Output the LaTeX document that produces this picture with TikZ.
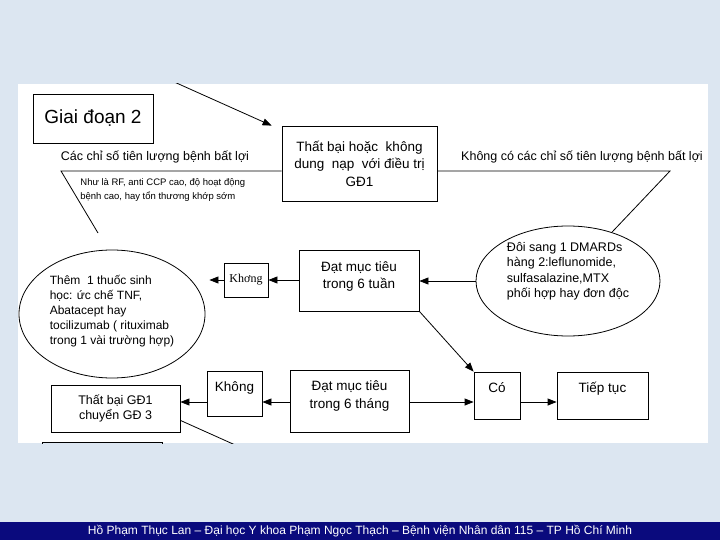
\documentclass[tikz,border=0pt]{standalone}
\usepackage{fontspec}
\setmainfont{Liberation Sans}
\newfontfamily\serifvn{Liberation Serif}
\usetikzlibrary{arrows.meta,calc,positioning,shapes.geometric}
\definecolor{slidebg}{RGB}{220,230,241}
\definecolor{barblue}{RGB}{10,10,125}
\tikzset{
  box/.style={draw,align=center,inner sep=2pt},
  oval/.style={draw,ellipse,align=left,inner sep=0pt},
  arr/.style={-{Triangle[length=9pt,width=7pt]}},
  big/.style={font=\fontsize{13.5}{17.5}\selectfont},
  mid/.style={font=\fontsize{12.5}{15.5}\selectfont},
}
\begin{document}
\begin{tikzpicture}[x=1pt,y=-1pt,line width=0.8pt]
\fill[slidebg] (0,0) rectangle (720,540);
\useasboundingbox (0,0) rectangle (720,540);
\fill[white] (18,84) rectangle (708,443);
\fill[barblue] (0,522) rectangle (720,540);
\node[text=white,font=\fontsize{12}{13}\selectfont] (foot) at (360,531) {Hồ Phạm Thục Lan – Đại học Y khoa Phạm Ngọc Thạch – Bệnh viện Nhân dân 115 – TP Hồ Chí Minh};
\begin{scope}
\clip (18,84) rectangle (708,443);
\node[box,minimum width=120pt,minimum height=49pt,font=\fontsize{19}{22}\selectfont] (giai) at (93,118.5) {Giai đoạn 2};
\node[box,big,minimum width=155pt,minimum height=75pt] (thatbai) at (359.5,163.5) {Thất bại hoặc\ \ không\\dung\ \ nạp\ \ với điều trị\\GĐ1};
\coordinate (top) at (172,81);
\draw[arr] (top) -- ([xshift=-10pt]thatbai.north west);
\coordinate (lft) at (61,171);
\coordinate (lftend) at (98,233);
\coordinate (rgt) at (670,171);
\draw (lftend) -- (lft) -- (lft -| thatbai.west);
\node[mid] (xau) at (155,157) {Các chỉ số tiên lượng bệnh bất lợi};
\node[mid] (tot) at (582,157) {Không có các chỉ số tiên lượng bệnh bất lợi};
\node[align=left,anchor=west,inner sep=0pt,font=\fontsize{9.5}{14}\selectfont] (vidu) at (80,190) {Như là RF, anti CCP cao, độ hoạt động\\bệnh cao, hay tổn thương khớp sớm};
\node[oval,mid,minimum width=184pt,minimum height=110pt,text depth=22pt] (doi) at (568,281) {Đôi sang 1 DMARDs\\hàng 2:leflunomide,\\sulfasalazine,MTX\\phối hợp hay đơn độc};
\draw (thatbai.east |- rgt) -- (rgt) -- (doi.48);
\node[box,big,minimum width=120pt,minimum height=61pt,text depth=10.5pt] (tuan) at (359,280.5) {Đạt mục tiêu\\trong 6 tuần};
\draw[arr] (doi.west) -- (doi.west -| tuan.east);
\node[box,minimum width=44pt,minimum height=34pt,font=\serifvn\fontsize{12}{14}\selectfont] (khong1) at (246,280) {Khơng};
\draw[arr] (tuan.west |- khong1) -- (khong1.east);
\node[oval,font=\fontsize{12}{15}\selectfont,minimum width=186pt,minimum height=128pt,text depth=8pt] (them) at (112,314) {Thêm\ \ 1 thuốc sinh\\học: ức chế TNF,\\Abatacept hay\\tocilizumab ( rituximab\\trong 1 vài trường hợp)};
\draw[arr,shorten >=4pt] (khong1.west) -- (khong1.west -| them.east);
\coordinate (row) at (0,402);
\node[box,mid,minimum width=129pt,minimum height=47pt] (gd3) at (115.5,408.5) {Thất bại GĐ1\\chuyển GĐ 3};
\node[box,big,minimum width=55pt,minimum height=45pt,text depth=13pt] (khong2) at (234.5,393.5) {Không};
\node[box,big,minimum width=119pt,minimum height=62pt,text depth=12.5pt] (thang) at (349.5,401) {Đạt mục tiêu\\trong 6 tháng};
\node[box,big,minimum width=46pt,minimum height=47pt,text depth=16pt] (co) at (497,395.5) {Có};
\node[box,big,minimum width=91pt,minimum height=47pt,text depth=16pt] (tiep) at (602.5,395.5) {Tiếp tục};
\draw[arr] (thang.west |- row) -- (khong2.east |- row);
\draw[arr] (khong2.west |- row) -- (gd3.east |- row);
\draw[arr] (thang.east |- row) -- (co.west |- row);
\draw[arr] (co.east |- row) -- (tiep.west |- row);
\draw[arr] (tuan.south east) -- (co.north west);
\coordinate (low) at (262,457);
\draw ([yshift=12pt]gd3.south east) -- (low);
\draw (42,470) -- (42,442) -- (162,442) -- (162,470);
\end{scope}
\end{tikzpicture}
\end{document}
